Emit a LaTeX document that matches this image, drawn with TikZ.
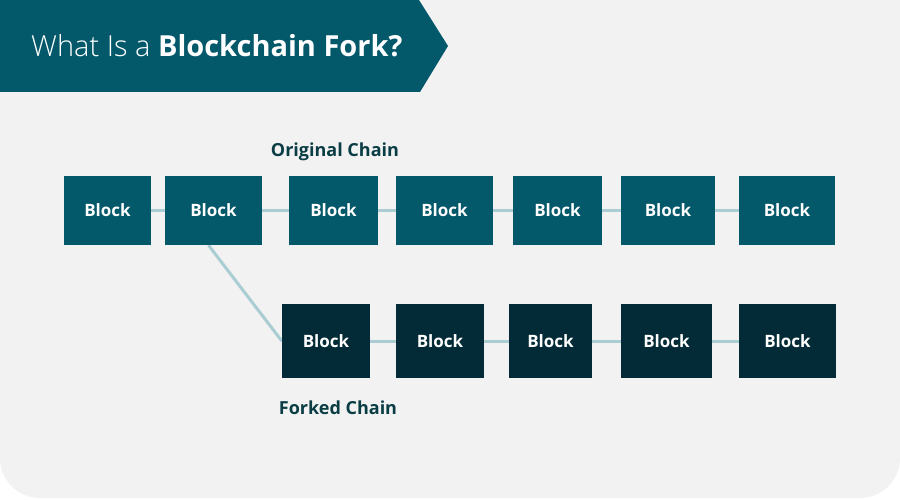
\documentclass[tikz,border=0pt]{standalone}
\usepackage{fontspec}
\setmainfont{Open Sans}
\newfontfamily\lightfont{Open Sans Light}
\definecolor{bggrey}{HTML}{F2F2F2}
\definecolor{teal}{HTML}{03586A}
\definecolor{darkteal}{HTML}{022B37}
\definecolor{linkblue}{HTML}{A9CDD3}
\definecolor{labelc}{HTML}{0B3D45}
\pgfdeclarelayer{bglayer}
\pgfdeclarelayer{linklayer}
\pgfsetlayers{bglayer,linklayer,main}
\tikzset{
  topblock/.style={fill=teal, inner sep=0pt, text=white, font=\bfseries\fontsize{17}{20}\selectfont},
  botblock/.style={fill=darkteal, inner sep=0pt, text=white, font=\bfseries\fontsize{17}{20}\selectfont},
  link/.style={draw=linkblue, line width=3pt},
  chainlabel/.style={text=labelc, font=\bfseries\fontsize{18}{21}\selectfont, inner sep=0pt, anchor=base}
}
\begin{document}
\begin{tikzpicture}[x=1pt,y=-1pt]
\useasboundingbox (0,0) rectangle (900,500);
\begin{pgfonlayer}{bglayer}
\fill[white] (0,0) rectangle (900,500);
\fill[bggrey] (0,0) -- (900,0) [rounded corners=40pt] -- (900,498) -- (0,498) [sharp corners] -- (0,0) -- cycle;
\end{pgfonlayer}
% banner
\fill[teal] (0,0) -- (419,0) -- (448,46) -- (420,92) -- (0,92) -- cycle;
\node[anchor=base west, text=white, inner sep=0pt] (title) at (31,57)
  {\fontsize{29}{34}\selectfont{\lightfont What Is a }\textbf{Blockchain Fork?}};
% top row
\foreach \n/\a/\b in {1/64/151, 2/165/262, 3/289/378, 4/396/493, 5/513/602, 6/621/715, 7/739/835}{
  \node[topblock, minimum width={(\b-\a)*1pt}, minimum height=69pt] (t\n) at ({(\a+\b)/2},210.5) {Block};
}
% bottom row
\foreach \n/\a/\b in {1/282/370, 2/396/484, 3/509/592, 4/621/712, 5/739/836}{
  \node[botblock, minimum width={(\b-\a)*1pt}, minimum height=74pt] (f\n) at ({(\a+\b)/2},341) {Block};
}
\node[chainlabel] (orig) at (335,157) {Original Chain};
\node[chainlabel] (fork) at (338,414) {Forked Chain};
\begin{pgfonlayer}{linklayer}
\draw[link] (t1) -- (t2) -- (t3) -- (t4) -- (t5) -- (t6) -- (t7);
\draw[link] (f1) -- (f2) -- (f3) -- (f4) -- (f5);
\draw[link] ([xshift=-5pt]t2.south) -- (f1.west);
\end{pgfonlayer}
\end{tikzpicture}
\end{document}
